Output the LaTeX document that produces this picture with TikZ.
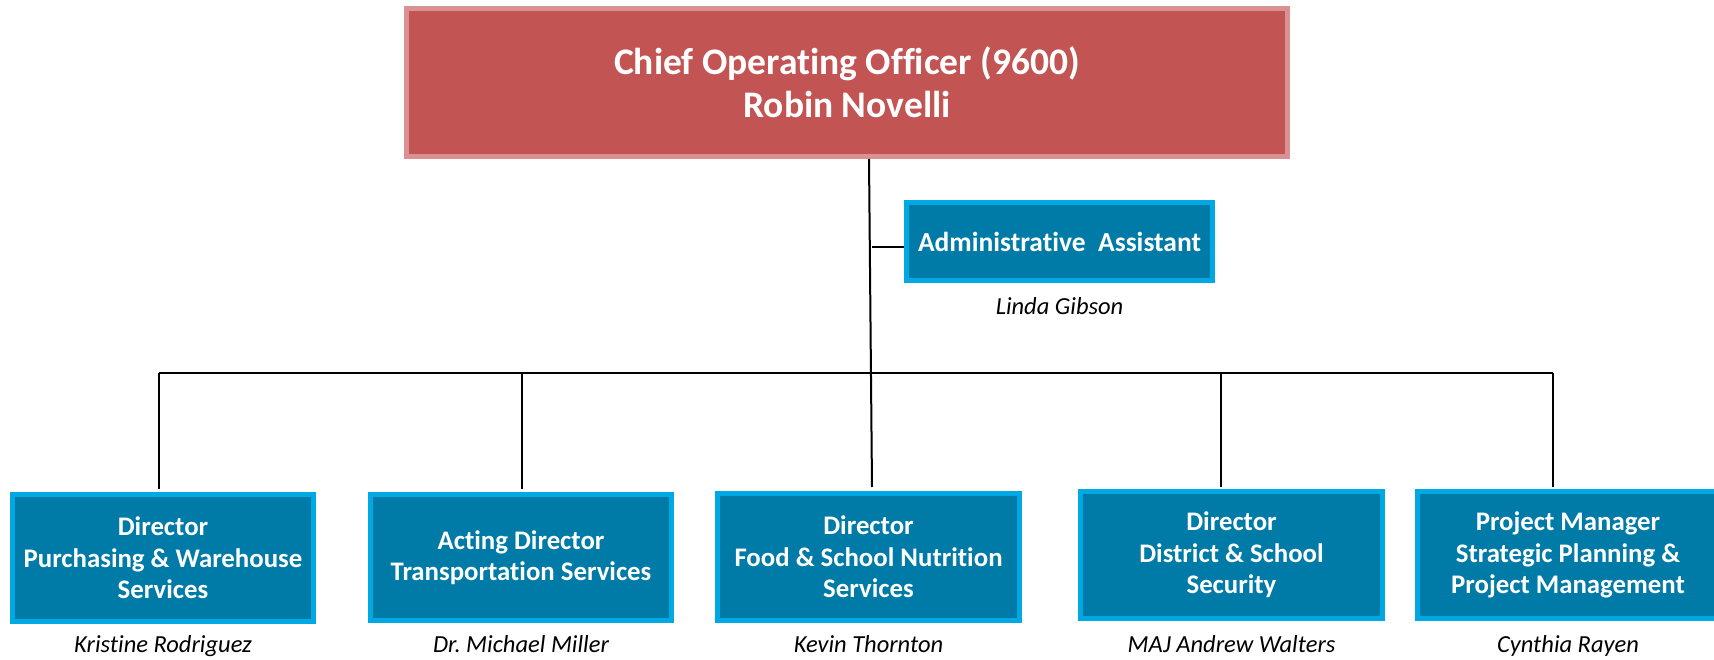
\documentclass[tikz,border=0pt]{standalone}
\usepackage{fontspec}
\setmainfont{Carlito}[Ligatures={NoCommon,NoRare}]
\usetikzlibrary{calc}
\frenchspacing
\definecolor{cooFill}{RGB}{194,85,83}
\definecolor{cooLine}{RGB}{217,146,145}
\definecolor{boxFill}{RGB}{0,123,167}
\definecolor{boxLine}{RGB}{0,168,228}
\tikzset{
  coobox/.style={draw=cooLine, fill=cooFill, line width=5pt, text=white,
    font=\fontsize{37.5}{43}\selectfont\bfseries, align=center, inner sep=0pt,
    minimum width=881pt, minimum height=148pt},
  unitbox/.style={draw=boxLine, fill=boxFill, line width=5pt, text=white,
    font=\fontsize{26.8}{31.5}\selectfont\bfseries, align=center, inner sep=0pt,
    minimum width=301pt, minimum height=127pt},
  namelabel/.style={font=\fontsize{24.5}{28}\selectfont\itshape, text=black, inner sep=0pt, anchor=base},
  link/.style={draw=black, line width=2pt}
}
\begin{document}
\begin{tikzpicture}[x=1pt,y=-1pt]
\useasboundingbox (0,0) rectangle (1714,660);
\begin{scope}
\clip (0,0) rectangle (1714,660);
\node[coobox] (coo) at (847,82.5) {Chief Operating Officer (9600)\\Robin Novelli};
\node[unitbox, minimum width=306pt, minimum height=78pt, font=\fontsize{27.5}{31.5}\selectfont\bfseries] (adm) at (1059.5,241.5) {Administrative~~Assistant};
\node[namelabel] (admn) at (1059.5,315) {Linda Gibson};

\node[unitbox] (b1) at (163,558) {Director\\Purchasing \& Warehouse\\Services};
\node[unitbox, minimum height=126pt] (b2) at (521,557.5) {Acting Director\\Transportation Services};
\node[unitbox, minimum width=302pt, minimum height=127pt] (b3) at (868.5,557) {Director\\Food \& School Nutrition\\Services};
\node[unitbox, minimum width=302pt] (b4) at (1231.5,555) {Director\\District \& School\\Security};
\node[unitbox] (b5) at (1568,555) {Project Manager\\Strategic Planning \&\\Project Management};

\node[namelabel] (n1) at (163,652) {Kristine Rodriguez};
\node[namelabel] (n2) at (521,652) {Dr. Michael Miller};
\node[namelabel] (n3) at (868.5,652) {Kevin Thornton};
\node[namelabel] (n4) at (1231.5,652) {MAJ Andrew Walters};
\node[namelabel] (n5) at (1568,652) {Cynthia Rayen};
\end{scope}

\coordinate (top) at (869,159);
\coordinate (bot) at (872,487);
\coordinate (admj) at (872,247);
\coordinate (j1) at (159,373);
\coordinate (j2) at (522,373);
\coordinate (j4) at (1221,373);
\coordinate (j5) at (1553,373);

\draw[link] (top) -- (bot);
\draw[link] (admj) -- (adm.west |- admj);
\draw[link] (j1) -- (j5);
\draw[link] (j1) -- ($(j1 |- b1.north)+(0,-3)$);
\draw[link] (j2) -- ($(j2 |- b2.north)+(0,-3)$);
\draw[link] (j4) -- ($(j4 |- b4.north)+(0,-2)$);
\draw[link] (j5) -- ($(j5 |- b5.north)+(0,-2)$);
\end{tikzpicture}
\end{document}
